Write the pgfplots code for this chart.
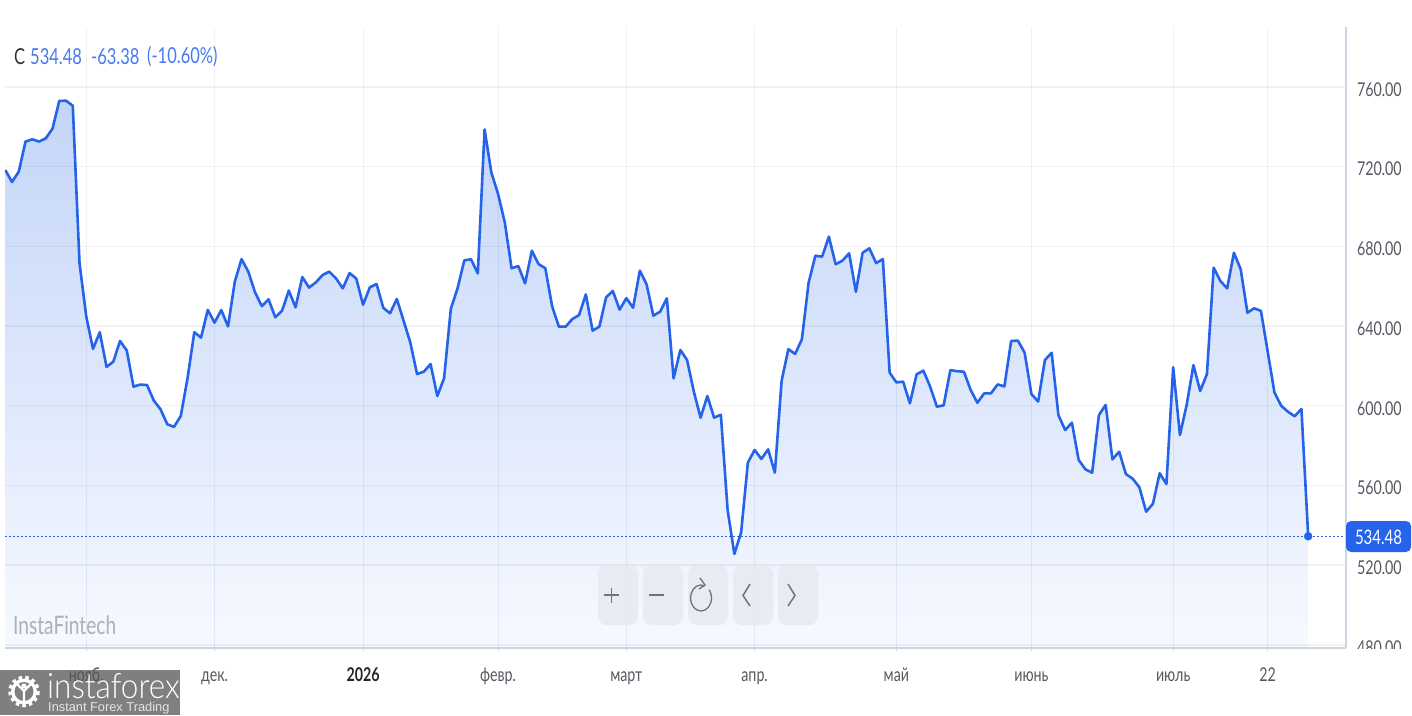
\documentclass[border=0pt]{standalone}
\usepackage{fontspec}
\setmainfont[FakeStretch=0.75]{Lato}
\newfontfamily\logofont[FakeStretch=0.9]{Lato Light}
\newfontfamily\logosub{Liberation Sans}
\usepackage{pgfplots}
\usepackage{pgfplotstable}
\pgfplotsset{compat=1.18}

\definecolor{lineblue}{HTML}{2563EB}
\definecolor{labelgray}{HTML}{55585F}
\definecolor{axisline}{HTML}{CBD6E2}
\definecolor{btn}{HTML}{E6E8EF}
\definecolor{icon}{HTML}{6F7278}

% i = trading day index, c = close
\pgfplotstableread{
i c
0 718.3
1 712.3
2 717.5
3 732.6
4 733.7
5 732.6
6 734.2
7 739.1
8 753.0
9 753.1
10 750.6
11 671.5
12 644.7
13 628.5
14 636.9
15 619.5
16 622.1
17 632.5
18 627.7
19 609.6
20 610.6
21 610.4
22 602.6
23 598.2
24 590.7
25 589.4
26 594.9
27 613.8
28 636.9
29 634.2
30 648.1
31 641.7
32 648.0
33 639.8
34 662.3
35 673.6
36 667.3
37 656.9
38 650.0
39 653.4
40 644.4
41 647.7
42 657.8
43 649.4
44 664.6
45 659.3
46 661.9
47 665.6
48 667.3
49 663.9
50 658.9
51 666.6
52 663.8
53 650.7
54 659.4
55 661.1
56 649.1
57 646.4
58 653.6
59 642.7
60 631.7
61 615.9
62 617.1
63 620.9
64 604.9
65 613.8
66 648.6
67 659.0
68 673.0
69 673.5
70 666.4
71 738.7
72 717.1
73 706.3
74 691.9
75 669.0
76 670.1
77 661.4
78 677.8
79 671.1
80 669.0
81 650.0
82 639.7
83 639.7
84 643.5
85 645.5
86 655.9
87 637.7
88 639.7
89 654.4
90 657.6
91 648.2
92 654.0
93 649.2
94 667.8
95 660.9
96 645.2
97 647.2
98 653.9
99 613.7
100 628.0
101 622.9
102 607.0
103 594.0
104 604.9
105 594.0
106 595.5
107 547.7
108 525.6
109 536.4
110 571.4
111 577.8
112 573.3
113 578.1
114 566.4
115 612.5
116 628.4
117 626.0
118 633.3
119 661.8
120 675.3
121 674.8
122 684.9
123 671.0
124 672.8
125 676.5
126 657.2
127 676.8
128 679.0
129 671.6
130 673.6
131 616.6
132 611.7
133 612.1
134 601.2
135 615.8
136 617.6
137 609.6
138 599.5
139 600.2
140 617.9
141 617.3
142 617.1
143 607.9
144 601.5
145 606.2
146 606.2
147 610.7
148 609.7
149 632.5
150 632.7
151 626.6
152 605.9
153 602.1
154 622.9
155 626.6
156 595.3
157 587.8
158 591.5
159 572.8
160 568.1
161 566.4
162 595.3
163 600.4
164 573.1
165 576.9
166 565.7
167 563.4
168 559.0
169 546.8
170 550.8
171 566.1
172 560.7
173 619.3
174 585.3
175 600.4
176 620.4
177 607.4
178 615.9
179 669.3
180 662.6
181 658.9
182 676.8
183 668.5
184 646.7
185 648.9
186 647.6
187 627.2
188 606.7
189 600.0
190 597.0
191 594.7
192 598.4
193 534.48
}\closes

\begin{document}
\begin{tikzpicture}
\path[use as bounding box] (0,0) rectangle (1412pt,715pt);
\begin{axis}[
    at={(5pt,67pt)}, anchor=south west,
    scale only axis, width=1341pt, height=621pt,
    xmin=-0.04, xmax=198.6,
    ymin=478.4, ymax=790.1,
    axis x line=bottom, axis y line=right,
    axis line style={-, color=axisline, line width=1.2pt},
    axis on top,
    grid=major,
    major x grid style={color=black!60!blue, opacity=0.06, line width=0.9pt},
    major y grid style={color=black, opacity=0.05, line width=1.5pt},
    xtick={12,31,53,73,92,111,132,152,173,187},
    xticklabels={нояб.,дек.,\textbf{\textcolor{black!85}{2026}},февр.,март,апр.,май,июнь,июль,22},
    ytick={480,520,...,760},
    x tick style={color=axisline, line width=0.9pt},
    y tick style={draw=none},
    major tick length=5pt,
    tick label style={font=\fontsize{19}{22}\selectfont, text=labelgray},
    x tick label style={anchor=center, text height=12pt, text depth=3pt, yshift=-26pt},
    y tick label style={anchor=west, xshift=5pt, yshift=-2.5pt,
        /pgf/number format/.cd, fixed, fixed zerofill, precision=2, 1000 sep={}, assume math mode=true},
]
\addplot[draw=none, shading=axis, top color={rgb,255:red,195;green,213;blue,248}, bottom color={rgb,255:red,246;green,249;blue,255}]
    table[x=i, y=c] {\closes} \closedcycle;
\addplot[lineblue, line width=1.4pt, dash pattern=on 2pt off 2pt] coordinates {(-0.04,534.48) (198.6,534.48)};
\addplot[lineblue, line width=2.6pt, line join=round] table[x=i, y=c] {\closes};
\addplot[lineblue, only marks, mark=*, mark size=4pt] coordinates {(193,534.48)};
\end{axis}

% overlays, coordinates in reference pixels
\begin{scope}[x=1pt, y=-1pt, shift={(0,715pt)}]
  % cover the lower half of the last tick label
  \fill[white] (1347.5,648.6) rectangle (1412,667);

  % header
  \node[anchor=west, inner sep=0, text=black!80, font=\fontsize{22}{26}\selectfont] at (14,57) {C};
  \node[anchor=west, inner sep=0, text=lineblue!85!white, font=\fontsize{22}{26}\selectfont] at (30,57) {534.48};
  \node[anchor=west, inner sep=0, text=lineblue!85!white, font=\fontsize{22}{26}\selectfont] at (91,57) {-63.38};
  \node[anchor=west, inner sep=0, text=lineblue!85!white, font=\fontsize{22}{26}\selectfont] at (147,57) {(-10.60\%)};

  % last price tag
  \fill[lineblue, rounded corners=5pt] (1346,521) rectangle (1411,552);
  \node[text=white, inner sep=0, font=\fontsize{20}{24}\selectfont] at (1378.5,537) {534.48};

  % chart buttons
  \foreach \bx in {598,643,688,733,778}
    \fill[btn, opacity=0.75, rounded corners=9pt] (\bx,565) rectangle ++(40,60);
  \draw[icon, line width=1.4pt] (604,595) -- (619,595) (611.5,588) -- (611.5,603);
  \draw[icon, line width=1.6pt] (649,595) -- (664,595);
  \draw[icon, line width=1.3pt] (704.6,585.8) arc[start angle=70, end angle=400, x radius=10.5pt, y radius=13pt];
  \draw[icon, line width=1.3pt] (700,578) -- (705,585) -- (699,589);
  \draw[icon, line width=1.5pt] (750,584) -- (743,595.5) -- (750,606);
  \draw[icon, line width=1.5pt] (788,584) -- (795,595.5) -- (788,606);

  % watermark
  \node[anchor=west, inner sep=0, text=black!30!blue!5!gray!60, font=\fontsize{25.5}{28}\selectfont] at (13,625) {InstaFintech};

  % logo
  \fill[black!67, opacity=0.75] (0,670) rectangle (180,715);
  \draw[white, line width=3.5pt, dash pattern=on 3.5pt off 3.2pt] (24,691.5) circle[radius=14];
  \fill[white] (24,691.5) circle[radius=13];
  \fill[black!50] (24,691.5) circle[radius=9.5];
  \fill[white] (24,686) circle[radius=2.6];
  \draw[white, line width=2.2pt] (16,683) -- (24,691) -- (32,683) (24,691) -- (24,704);
  \node[anchor=base west, inner sep=0, text=white, font=\logofont\fontsize{35}{38}\selectfont] at (47,698) {instaforex};
  \node[anchor=base west, inner sep=0, text=white!90!black, font=\logosub\fontsize{12.8}{15}\selectfont] at (48,711) {Instant Forex Trading};
\end{scope}
\end{tikzpicture}
\end{document}
